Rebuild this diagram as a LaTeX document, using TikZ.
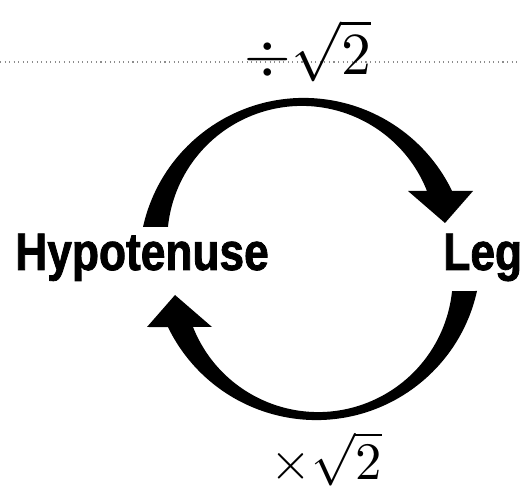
\documentclass[tikz,border=0pt]{standalone}
\usepackage{graphicx}
\usepackage{fontspec}
\newfontfamily\heavyfont{Liberation Sans}[FakeStretch=0.84,FakeBold=1.5]
\usepackage{tikz}
\usetikzlibrary{positioning}
\tikzset{
  sidelabel/.style={font=\heavyfont\bfseries\fontsize{30}{30}\selectfont, inner sep=0pt},
  handlabel/.style={inner sep=0pt},
  ruled/.style={draw=black!45, dotted, line width=0.6pt},
  turnarrow/.pic={
    \fill (-167,32) arc[start angle=167.5, end angle=25.8, radius=164.7]
      -- (163,68) -- (135,36) -- (98,68) -- (117,68)
      arc[start angle=21.6, end angle=174.2, radius=134.6] -- cycle;
  }
}

\begin{document}
\begin{tikzpicture}[x=0.02cm, y=0.02cm]
\useasboundingbox (0,0) rectangle (520,493);
\coordinate (mid) at (310,234);
\coordinate (rulew) at (0,431);
\coordinate (rulee) at (520,431);

\draw[ruled] (rulew) -- (rulee);

% the two curved arrows, one turned half round
\pic at (mid) {turnarrow};
\pic[rotate=180] at (mid) {turnarrow};

\node (hyp) [sidelabel, anchor=base west] at (15,223) {Hypotenuse};
\node (leg) [sidelabel, anchor=base west] at (443,223) {Leg};
\node (div) [handlabel] at (308,442) {\scalebox{3.4}{$\div\sqrt{2}$}};
\node (mul) [handlabel] at (326,34)  {\scalebox{3.0}{$\times\sqrt{2}$}};
\end{tikzpicture}
\end{document}
